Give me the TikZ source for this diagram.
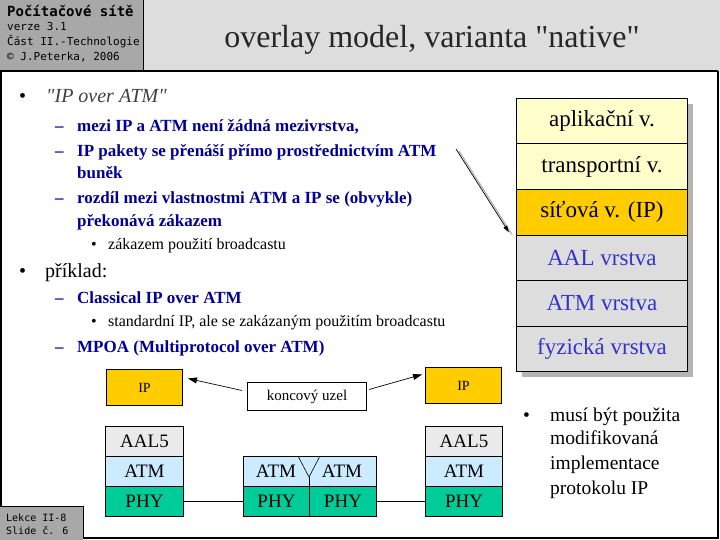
\documentclass[tikz,border=0pt]{standalone}
\usepackage{fontspec}
\setmainfont{Liberation Serif}
\newfontfamily\plainserif{Liberation Serif}
\newfontfamily\monof{DejaVu Sans Mono}
\usetikzlibrary{arrows.meta,calc}
\definecolor{hdrgray}{HTML}{A8A8A8}
\definecolor{titlegray}{HTML}{DDDDDD}
\definecolor{navy}{HTML}{000099}
\definecolor{lblue}{HTML}{3333CC}
\definecolor{lyellow}{HTML}{FFFFCC}
\definecolor{ipgold}{HTML}{FFCC00}
\definecolor{laygray}{HTML}{DDDDDD}
\definecolor{shadowgray}{HTML}{B4B4B4}
\definecolor{aalgray}{HTML}{EAEAEA}
\definecolor{atmblue}{HTML}{CCEBFF}
\definecolor{phygreen}{HTML}{00CC99}
\tikzset{
  txt/.style={anchor=base west,inner sep=0pt},
  lvlone/.style={txt,font=\fontsize{20}{22}\selectfont},
  lvltwo/.style={txt,font=\fontsize{17}{19}\selectfont\bfseries,text=navy},
  lvlthree/.style={txt,font=\fontsize{16}{18}\selectfont},
  hdr/.style={txt,font=\monof\fontsize{11}{12}\selectfont},
  layer/.style={draw=black,line width=1pt,minimum width=171pt,minimum height=45.5pt,anchor=north west,inner sep=0pt,font=\fontsize{23}{25}\selectfont},
  cell/.style={draw=black,line width=1pt,minimum height=30pt,anchor=north west,inner sep=0pt,font=\fontsize{19}{21}\selectfont},
  ipbox/.style={draw=black,line width=1pt,fill=ipgold,minimum width=76pt,minimum height=36pt,anchor=north west,inner sep=0pt,font=\fontsize{14}{16}\selectfont},
  arr/.style={-{Triangle[length=9pt,width=6pt]},line width=0.7pt}
}
\begin{document}
\begin{tikzpicture}[x=1pt,y=-1pt]
\useasboundingbox (0,0) rectangle (720,540);
\fill[white] (0,0) rectangle (720,540);
% header
\fill[hdrgray] (0,0) rectangle (143,71);
\fill[titlegray] (143,0) rectangle (720,71);
\draw[line width=1pt] (143,0) -- (143,71);
\draw[line width=1.5pt] (0,71) -- (718,71);
\node[txt,font=\monof\bfseries\fontsize{14}{16}\selectfont] (h1) at (7,17) {Počítačové sítě};
\node[hdr] (h2) at (7,31) {verze 3.1};
\node[hdr] (h3) at (7,46) {Část II.-Technologie};
\node[hdr] (h4) at (7,61) {© J.Peterka, 2006};
\node[anchor=base,inner sep=0pt,font=\plainserif\fontsize{32}{34}\selectfont,text=black!85] (title) at (432,48) {overlay model, varianta "native"};
% frame
\draw[line width=2pt] (1,71) -- (1,538) -- (718,538) -- (718,71);
\fill[hdrgray] (0,506) rectangle (83,540);
\draw[line width=1pt] (0,506) -- (83,506) -- (83,538);
\node[txt,font=\monof\fontsize{10}{11}\selectfont] (f1) at (6,521) {Lekce II-8};
\node[txt,font=\monof\fontsize{10}{11}\selectfont] (f2) at (6,534) {Slide č. 6};
% bullets
\node[lvlone] (b1) at (19,103) {•};
\node[lvlone,font=\plainserif\fontsize{20}{22}\selectfont\itshape,text=black!75] (t1) at (46,103) {"IP over ATM"};
\node[lvltwo] (d1) at (55,132) {–};
\node[lvltwo] (t2) at (77,132) {mezi IP a ATM není žádná mezivrstva,};
\node[lvltwo] (d2) at (55,157) {–};
\node[lvltwo] (t3) at (77,157) {IP pakety se přenáší přímo prostřednictvím ATM};
\node[lvltwo] (t3b) at (77,179) {buněk};
\node[lvltwo] (d3) at (55,204) {–};
\node[lvltwo] (t4) at (77,204) {rozdíl mezi vlastnostmi ATM a IP se (obvykle)};
\node[lvltwo] (t4b) at (77,226) {překonává zákazem};
\node[lvlthree] (b2) at (91,249) {•};
\node[lvlthree] (t5) at (108,249) {zákazem použití broadcastu};
\node[lvlone] (b3) at (19,277) {•};
\node[lvlone] (t6) at (45,277) {příklad:};
\node[lvltwo] (d4) at (55,303) {–};
\node[lvltwo] (t7) at (77,303) {Classical IP over ATM};
\node[lvlthree] (b4) at (91,326) {•};
\node[lvlthree] (t8) at (108,326) {standardní IP, ale se zakázaným použitím broadcastu};
\node[lvltwo] (d5) at (55,352) {–};
\node[lvltwo] (t9) at (77,352) {MPOA (Multiprotocol over ATM)};
% layer stack
\fill[shadowgray] (522,104) rectangle (693,377);
\node[layer,fill=lyellow] (apl) at (516,98) {aplikační v.};
\node[layer,fill=lyellow] (tra) at (516,143.5) {transportní v.};
\node[layer,fill=ipgold] (sit) at (516,189) {síťová v. (IP)};
\node[layer,fill=laygray,text=lblue] (aal) at (516,234.5) {AAL vrstva};
\node[layer,fill=laygray,text=lblue] (atm) at (516,280) {ATM vrstva};
\node[layer,fill=laygray,text=lblue] (fyz) at (516,325.5) {fyzická vrstva};
\coordinate (as) at (456,149);
\coordinate (ae) at ($(sit.south west)+(-7,-3)$);
\draw[shadowgray,line width=1.2pt] ($(as)+(3,2)$) -- ($(ae)+(3,2)$);
\draw[-{Triangle[length=7pt,width=4pt]},line width=0.7pt] (as) -- (ae);
% right bullet
\node[txt,font=\fontsize{19.5}{21}\selectfont] (b5) at (523,421) {•};
\node[txt,font=\fontsize{19.5}{21}\selectfont] (r1) at (550,421) {musí být použita};
\node[txt,font=\fontsize{19.5}{21}\selectfont] (r2) at (550,444) {modifikovaná};
\node[txt,font=\fontsize{19.5}{21}\selectfont] (r3) at (550,469) {implementace};
\node[txt,font=\fontsize{19.5}{21}\selectfont] (r4) at (550,494) {protokolu IP};
% bottom diagram
\node[ipbox] (lip) at (106,369) {IP};
\node[ipbox] (rip) at (425,367) {IP};
\node[draw=black,line width=1pt,fill=white,minimum width=119pt,minimum height=28pt,anchor=north west,inner sep=0pt,font=\fontsize{15}{17}\selectfont] (uzel) at (247,382) {koncový uzel};
\draw[arr] ($(uzel.west)+(-5,-6)$) -- ($(lip.east)+(5,-9)$);
\draw[arr] ($(uzel.east)+(2,-7)$) -- ($(rip.west)+(-3,-11)$);
\node[cell,fill=aalgray,minimum width=78pt] (laal) at (105,426) {AAL5};
\node[cell,fill=atmblue,minimum width=78pt] (latm) at (105,456) {ATM};
\node[cell,fill=phygreen,minimum width=78pt] (lphy) at (105,486) {PHY};
\node[cell,fill=aalgray,minimum width=77pt] (raal) at (425,426) {AAL5};
\node[cell,fill=atmblue,minimum width=77pt] (ratm) at (425,456) {ATM};
\node[cell,fill=phygreen,minimum width=77pt] (rphy) at (425,486) {PHY};
\node[cell,fill=atmblue,minimum width=133pt] (matm) at (243,456) {};
\node[anchor=center,inner sep=0pt,font=\fontsize{19}{21}\selectfont] (matm1) at (276,471) {ATM};
\node[anchor=center,inner sep=0pt,font=\fontsize{19}{21}\selectfont] (matm2) at (342,471) {ATM};
\draw[line width=0.6pt] (298,456) -- (309,477) -- (320,456);
\draw[line width=1pt] (309,477) -- (309,486);
\node[cell,fill=phygreen,minimum width=66pt] (mphy1) at (243,486) {PHY};
\node[cell,fill=phygreen,minimum width=67pt] (mphy2) at (309,486) {PHY};
\draw[line width=0.8pt] (lphy.east) -- (mphy1.west);
\draw[line width=0.8pt] (mphy2.east) -- (rphy.west);
\end{tikzpicture}
\end{document}
